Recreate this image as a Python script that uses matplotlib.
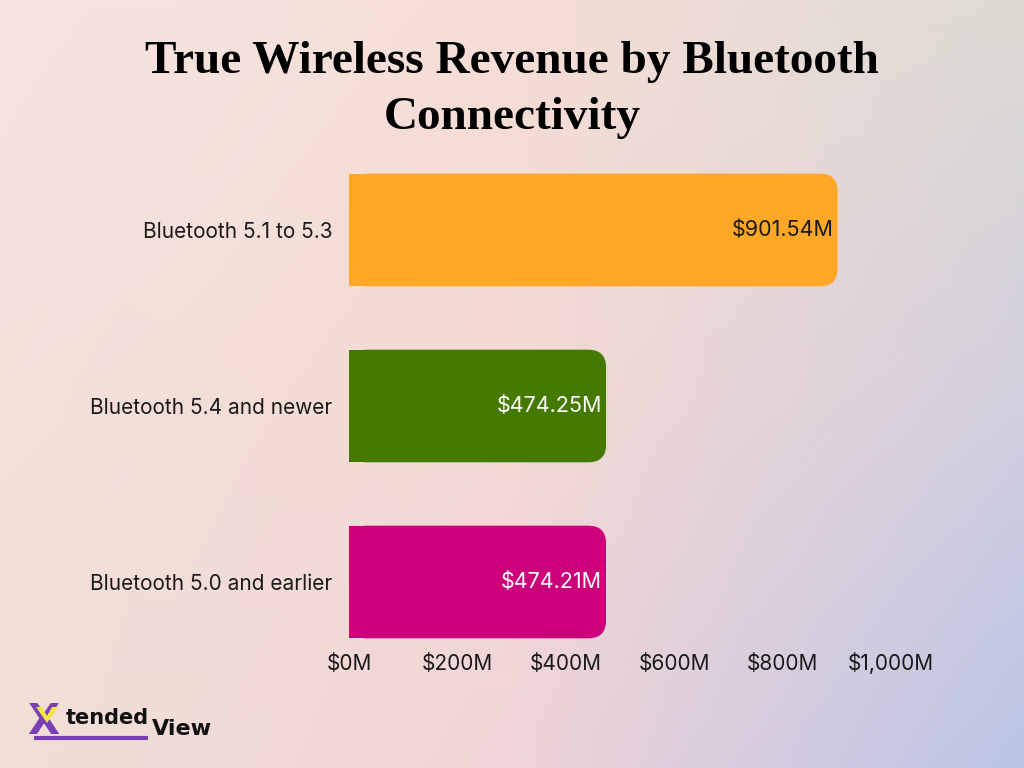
import numpy as np
import matplotlib
matplotlib.use("Agg")
import matplotlib.pyplot as plt
from matplotlib.patches import FancyBboxPatch, Rectangle, Polygon

categories = ["Bluetooth 5.1 to 5.3", "Bluetooth 5.4 and newer", "Bluetooth 5.0 and earlier"]
revenue_m = [901.54, 474.25, 474.21]
value_labels = ["$901.54M", "$474.25M", "$474.21M"]
bar_colors = ["#FFA726", "#457A00", "#CC007A"]
label_colors = ["#1a1a1a", "white", "white"]
x_ticks = [0, 200, 400, 600, 800, 1000]
x_tick_labels = ["$0M", "$200M", "$400M", "$600M", "$800M", "$1,000M"]

W, H = 1024, 768
fig = plt.figure(figsize=(W / 100, H / 100), dpi=100)

# background gradient (3x3 corner colours, bilinear)
grid = np.array([
    [[246, 228, 226], [246, 222, 214], [222, 219, 212]],
    [[243, 225, 218], [245, 218, 212], [212, 208, 222]],
    [[241, 224, 214], [240, 212, 216], [186, 196, 230]],
]) / 255.0
ny, nx = 200, 260
yy = np.linspace(0, 2, ny)
xx = np.linspace(0, 2, nx)
img = np.zeros((ny, nx, 3))
for i, fy in enumerate(yy):
    iy = min(int(fy), 1)
    ty = fy - iy
    for c in range(3):
        top = np.interp(xx, [0, 1, 2], grid[iy, :, c])
        bot = np.interp(xx, [0, 1, 2], grid[iy + 1, :, c])
        img[i, :, c] = top * (1 - ty) + bot * ty
bg = fig.add_axes([0, 0, 1, 1])
bg.imshow(img, aspect="auto", extent=[0, 1, 0, 1], origin="upper")
bg.axis("off")

# main axes: x 0..1000 maps to px 349..891
left = 349 / W
width = 542 / W
top_px, bot_px = 150, 648
ax = fig.add_axes([left, 1 - bot_px / H, width, (bot_px - top_px) / H])
ax.set_facecolor("none")
ax.set_xlim(0, 1000)
ypos = np.arange(len(categories))
ax.set_ylim(2 + (bot_px - 582) / 176, 0 - (230 - top_px) / 176)

bar_h = 0.64
r_x = 33
for y, v, col in zip(ypos, revenue_m, bar_colors):
    p = FancyBboxPatch((0, y - bar_h / 2), v, bar_h,
                       boxstyle=f"round,pad=0,rounding_size={r_x}",
                       mutation_aspect=0.1 / r_x, fc=col, ec="none")
    ax.add_patch(p)
    ax.add_patch(Rectangle((0, y - bar_h / 2), v / 2, bar_h, fc=col, ec="none"))

for y, v, lab, lc in zip(ypos, revenue_m, value_labels, label_colors):
    ax.text(v - 7, y, lab, ha="right", va="center", fontsize=15.5,
            color=lc, family="Inter")

ax.set_yticks(ypos)
ax.set_yticklabels(categories, fontsize=15, family="Inter", color="#1a1a1a")
ax.set_xticks(x_ticks)
ax.set_xticklabels(x_tick_labels, fontsize=15, family="Inter", color="#1a1a1a")
for t in ax.get_xticklabels():
    t.set_verticalalignment("baseline")
ax.tick_params(length=0)
ax.tick_params(axis="y", pad=12)
ax.tick_params(axis="x", pad=16)
for s in ax.spines.values():
    s.set_visible(False)

fig.text(0.5, 1 - 62 / H, "True Wireless Revenue by Bluetooth", ha="center",
         va="center", fontsize=34, fontweight="bold", family="Liberation Serif")
fig.text(0.5, 1 - 118 / H, "Connectivity", ha="center", va="center",
         fontsize=34, fontweight="bold", family="Liberation Serif")

# logo
bg.set_xlim(0, 1)
bg.set_ylim(0, 1)
bg.plot([34 / W, 148 / W], [1 - 738 / H, 1 - 738 / H], color="#7B3FB5", lw=3,
        solid_capstyle="butt")
bg.text(27 / W, 1 - 722 / H, "X", fontsize=30, fontweight="bold",
        color="#7B3FB5", family="DejaVu Sans", va="center", zorder=2)
bg.add_patch(Polygon([(36 / W, 1 - 707 / H), (42 / W, 1 - 707 / H),
                      (47 / W, 1 - 716 / H), (52 / W, 1 - 707 / H),
                      (58 / W, 1 - 707 / H), (47 / W, 1 - 723 / H)],
                     closed=True, fc="#F2E641", ec="none", zorder=3))
fig.text(66 / W, 1 - 718 / H, "tended", fontsize=15, fontweight="bold",
         color="#111111", family="DejaVu Sans", va="center")
fig.text(152 / W, 1 - 729 / H, "View", fontsize=16, fontweight="bold",
         color="#111111", family="DejaVu Sans", va="center")

fig.savefig("out.png", dpi=100)
